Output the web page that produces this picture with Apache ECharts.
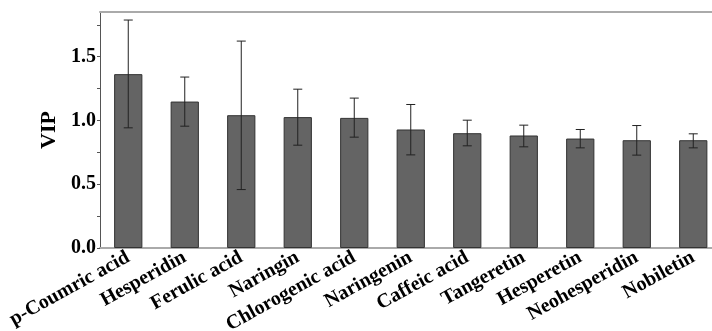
<!DOCTYPE html>
<html>
<head>
<meta charset="utf-8">
<script src="https://cdn.jsdelivr.net/npm/echarts@6/dist/echarts.min.js"></script>
<style>html,body{margin:0;padding:0;background:#fff}#c{width:712px;height:331px}</style>
</head>
<body>
<div id="c"></div>
<script>
var categories = ['p-Coumric acid','Hesperidin','Ferulic acid','Naringin','Chlorogenic acid','Naringenin','Caffeic acid','Tangeretin','Hesperetin','Neohesperidin','Nobiletin'];
var vip = [1.363, 1.148, 1.041, 1.026, 1.020, 0.929, 0.900, 0.882, 0.858, 0.845, 0.845];
var errLow = [0.942, 0.955, 0.458, 0.806, 0.869, 0.730, 0.801, 0.793, 0.785, 0.728, 0.785];
var errHigh = [1.787, 1.340, 1.622, 1.245, 1.175, 1.125, 1.002, 0.963, 0.929, 0.960, 0.895];
var yTicks = [0, 0.5, 1.0, 1.5];
var yMinorTicks = [0, 0.25, 0.5, 0.75, 1.0, 1.25, 1.5, 1.75];

var errData = categories.map(function (c, i) { return [i, errLow[i], errHigh[i]]; });
var font = 'Times New Roman';
var chart = echarts.init(document.getElementById('c'));
chart.setOption({
  animation: false,
  grid: { left: 100, top: 12, bottom: 83, width: 621.5, containLabel: false, outerBoundsMode: 'none' },
  xAxis: [{
    type: 'category', data: categories,
    axisLine: { lineStyle: { color: '#aaaaaa', width: 2 } },
    axisTick: { alignWithLabel: true, length: 4, lineStyle: { color: '#999' } },
    axisLabel: { rotate: 29, margin: 8, interval: 0, color: '#000', fontFamily: font, fontWeight: 'bold', fontSize: 20 }
  }, {
    type: 'category', data: categories, position: 'top',
    axisLine: { lineStyle: { color: '#aaaaaa', width: 2 } },
    axisTick: { show: false }, axisLabel: { show: false }
  }],
  yAxis: {
    type: 'value', min: 0, max: 1.85,
    name: 'VIP', nameLocation: 'middle', nameGap: 34, nameRotate: 90,
    nameTextStyle: { color: '#000', fontFamily: font, fontWeight: 'bold', fontSize: 22 },
    axisLine: { show: true, lineStyle: { color: '#555', width: 1 } },
    axisTick: { show: true, length: 3, customValues: yMinorTicks, lineStyle: { color: '#555' } },
    axisLabel: { customValues: yTicks, margin: 4, color: '#000', fontFamily: font, fontWeight: 'bold', fontSize: 20,
      formatter: function (v) { return v.toFixed(1); } },
    splitLine: { show: false }
  },
  series: [{
    type: 'bar', data: vip, barWidth: '50%',
    itemStyle: { color: '#646464', borderColor: '#333', borderWidth: 1 }
  }, {
    type: 'custom', data: errData, z: 5,
    renderItem: function (params, api) {
      var x = api.value(0);
      var lo = api.coord([x, api.value(1)]);
      var hi = api.coord([x, api.value(2)]);
      var hw = 4.5;
      var st = { stroke: '#222', lineWidth: 1 };
      return { type: 'group', children: [
        { type: 'line', shape: { x1: lo[0], y1: lo[1], x2: hi[0], y2: hi[1] }, style: st },
        { type: 'line', shape: { x1: lo[0] - hw, y1: lo[1], x2: lo[0] + hw, y2: lo[1] }, style: st },
        { type: 'line', shape: { x1: hi[0] - hw, y1: hi[1], x2: hi[0] + hw, y2: hi[1] }, style: st }
      ] };
    }
  }]
});
</script>
</body>
</html>
